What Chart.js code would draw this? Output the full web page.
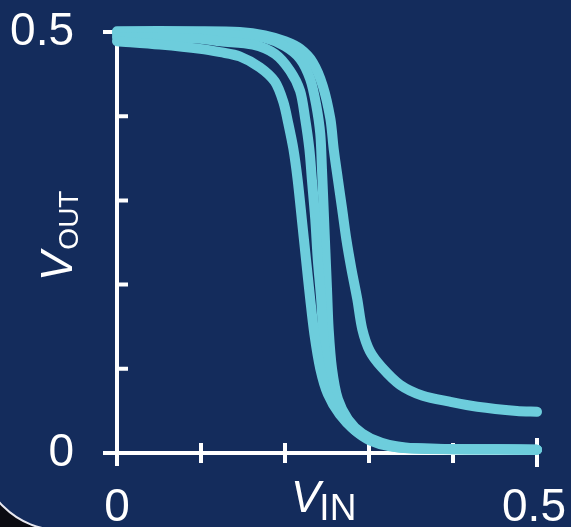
<!DOCTYPE html>
<html><head><meta charset="utf-8">
<script src="https://cdn.jsdelivr.net/npm/chart.js@4/dist/chart.umd.min.js"></script>
<style>html,body{margin:0;padding:0;background:#0b0b12;overflow:hidden}canvas{display:block}</style>
</head><body>
<canvas id="c" width="571" height="527"></canvas>
<script>
// ---- data ----
const vinA  = [0,0.051,0.099,0.123,0.146,0.170,0.188,0.198,0.204,0.210,0.215,0.220,0.225,0.230,0.235,0.242,0.251,0.265,0.283,0.301,0.325,0.361,0.5];
const voutA = [0.489,0.485,0.480,0.476,0.471,0.458,0.441,0.417,0.391,0.361,0.325,0.278,0.230,0.183,0.141,0.100,0.070,0.046,0.027,0.015,0.008,0.005,0.004];
const vinB  = [0,0.051,0.099,0.123,0.162,0.188,0.206,0.218,0.224,0.229,0.232,0.236,0.239,0.243,0.246,0.251,0.260,0.271,0.289,0.313,0.343,0.5];
const voutB = [0.494,0.493,0.492,0.489,0.485,0.474,0.454,0.430,0.397,0.361,0.325,0.278,0.230,0.183,0.135,0.094,0.064,0.040,0.023,0.012,0.006,0.004];
const vinC  = [0,0.099,0.146,0.176,0.200,0.218,0.230,0.237,0.242,0.244,0.246,0.248,0.250,0.252,0.256,0.263,0.275,0.292,0.315,0.349,0.5];
const voutC = [0.498,0.498,0.496,0.493,0.483,0.468,0.444,0.414,0.379,0.337,0.290,0.242,0.195,0.147,0.100,0.064,0.040,0.023,0.012,0.006,0.004];
const vinD  = [0,0.099,0.146,0.176,0.200,0.218,0.233,0.245,0.254,0.258,0.263,0.268,0.273,0.279,0.286,0.292,0.301,0.315,0.337,0.364,0.396,0.429,0.476,0.5];
const voutD = [0.501,0.501,0.500,0.496,0.489,0.480,0.464,0.436,0.397,0.361,0.325,0.290,0.254,0.219,0.183,0.147,0.121,0.102,0.081,0.068,0.061,0.055,0.050,0.049];

const xTicks = [0,0.1,0.2,0.3,0.4,0.5];
const yTicks = [0,0.1,0.2,0.3,0.4,0.5];
const labeledTicks = [0,0.5];
const tickLabels = ['0','0.5'];
const xTitle = ['V','IN'];
const yTitle = ['V','OUT'];

const NAVY = '#142c5c';
const CYAN = '#6dcddc';
const WHITE = '#ffffff';

function pts(xs, ys){ return xs.map((x,i)=>({x:x,y:ys[i]})); }

const series = [[vinA,voutA],[vinB,voutB],[vinC,voutC],[vinD,voutD]];

const decor = {
  id:'decor',
  beforeDraw(chart){
    const ctx = chart.ctx;
    ctx.save();
    ctx.fillStyle = '#0b0b12';
    ctx.fillRect(0,0,chart.width,chart.height);
    // panel with rounded bottom-left corner
    const L=-20, B=530, R=80;
    ctx.beginPath();
    ctx.moveTo(L,-50);
    ctx.lineTo(L,B-R);
    ctx.arc(L+R,B-R,R,Math.PI,Math.PI/2,true);
    ctx.lineTo(700,B);
    ctx.lineTo(700,-50);
    ctx.closePath();
    ctx.fillStyle = NAVY;
    ctx.fill();
    ctx.strokeStyle = '#e8e8f0';
    ctx.lineWidth = 2;
    ctx.stroke();
    ctx.restore();
  },
  beforeDatasetsDraw(chart){
    const ctx = chart.ctx, xs = chart.scales.x, ys = chart.scales.y;
    const x0 = xs.getPixelForValue(0), y0 = ys.getPixelForValue(0);
    ctx.save();
    ctx.strokeStyle = WHITE;
    ctx.lineWidth = 4;
    ctx.lineCap = 'butt';
    ctx.beginPath();
    // y axis
    ctx.moveTo(x0, ys.getPixelForValue(0.5)-2);
    ctx.lineTo(x0, y0+13);
    // x axis
    ctx.moveTo(x0-14, y0);
    ctx.lineTo(xs.getPixelForValue(0.5)+2, y0);
    // x ticks
    xTicks.forEach(v=>{
      if(v===0) return;
      const p = xs.getPixelForValue(v);
      const big = labeledTicks.includes(v);
      ctx.moveTo(p, y0-(big?15:10));
      ctx.lineTo(p, y0+(big?14:10));
    });
    // y ticks
    yTicks.forEach(v=>{
      if(v===0) return;
      const p = ys.getPixelForValue(v);
      if(labeledTicks.includes(v)){ ctx.moveTo(x0-14,p); ctx.lineTo(x0+2,p); }
      else { ctx.moveTo(x0,p); ctx.lineTo(x0+11,p); }
    });
    ctx.stroke();
    ctx.restore();
  },
  afterDraw(chart){
    const ctx = chart.ctx, xs = chart.scales.x, ys = chart.scales.y;
    ctx.save();
    ctx.fillStyle = WHITE;
    ctx.font = '46px "Liberation Sans", Arial, sans-serif';
    ctx.textBaseline = 'alphabetic';
    // y tick labels
    ctx.textAlign = 'right';
    labeledTicks.forEach((v,i)=>{
      ctx.fillText(tickLabels[i], 74, ys.getPixelForValue(v)+13);
    });
    // x tick labels
    ctx.textAlign = 'center';
    labeledTicks.forEach((v,i)=>{
      ctx.fillText(tickLabels[i], xs.getPixelForValue(v)-(v>0?3:0), 521);
    });
    // x title
    ctx.textAlign = 'left';
    ctx.font = 'italic 44px "Liberation Sans", Arial, sans-serif';
    ctx.fillText(xTitle[0], 291, 512);
    const vw = ctx.measureText(xTitle[0]).width;
    ctx.font = '37px "Liberation Sans", Arial, sans-serif';
    ctx.fillText(xTitle[1], 291+vw-1, 520);
    // y title (rotated)
    ctx.translate(72, 281);
    ctx.rotate(-Math.PI/2);
    ctx.font = 'italic 44px "Liberation Sans", Arial, sans-serif';
    ctx.fillText(yTitle[0], 0, 0);
    const vw2 = ctx.measureText(yTitle[0]).width;
    ctx.font = '28px "Liberation Sans", Arial, sans-serif';
    ctx.fillText(yTitle[1], vw2+2, 6);
    ctx.restore();
  }
};

new Chart(document.getElementById('c'), {
  type:'line',
  data:{
    datasets: series.map(s=>({
      data: pts(s[0], s[1]),
      borderColor: CYAN,
      borderWidth: 10,
      pointRadius: 0,
      tension: 0.3,
      borderCapStyle: 'round',
      borderJoinStyle: 'round',
      fill: false,
      clip: false
    }))
  },
  options:{
    responsive:false,
    devicePixelRatio:1,
    animation:false,
    events:[],
    layout:{padding:{left:117, right:34, top:32, bottom:74}},
    plugins:{legend:{display:false}, tooltip:{enabled:false}},
    scales:{
      x:{type:'linear', min:0, max:0.5, display:false},
      y:{type:'linear', min:0, max:0.5, display:false}
    }
  },
  plugins:[decor]
});
</script>
</body></html>
